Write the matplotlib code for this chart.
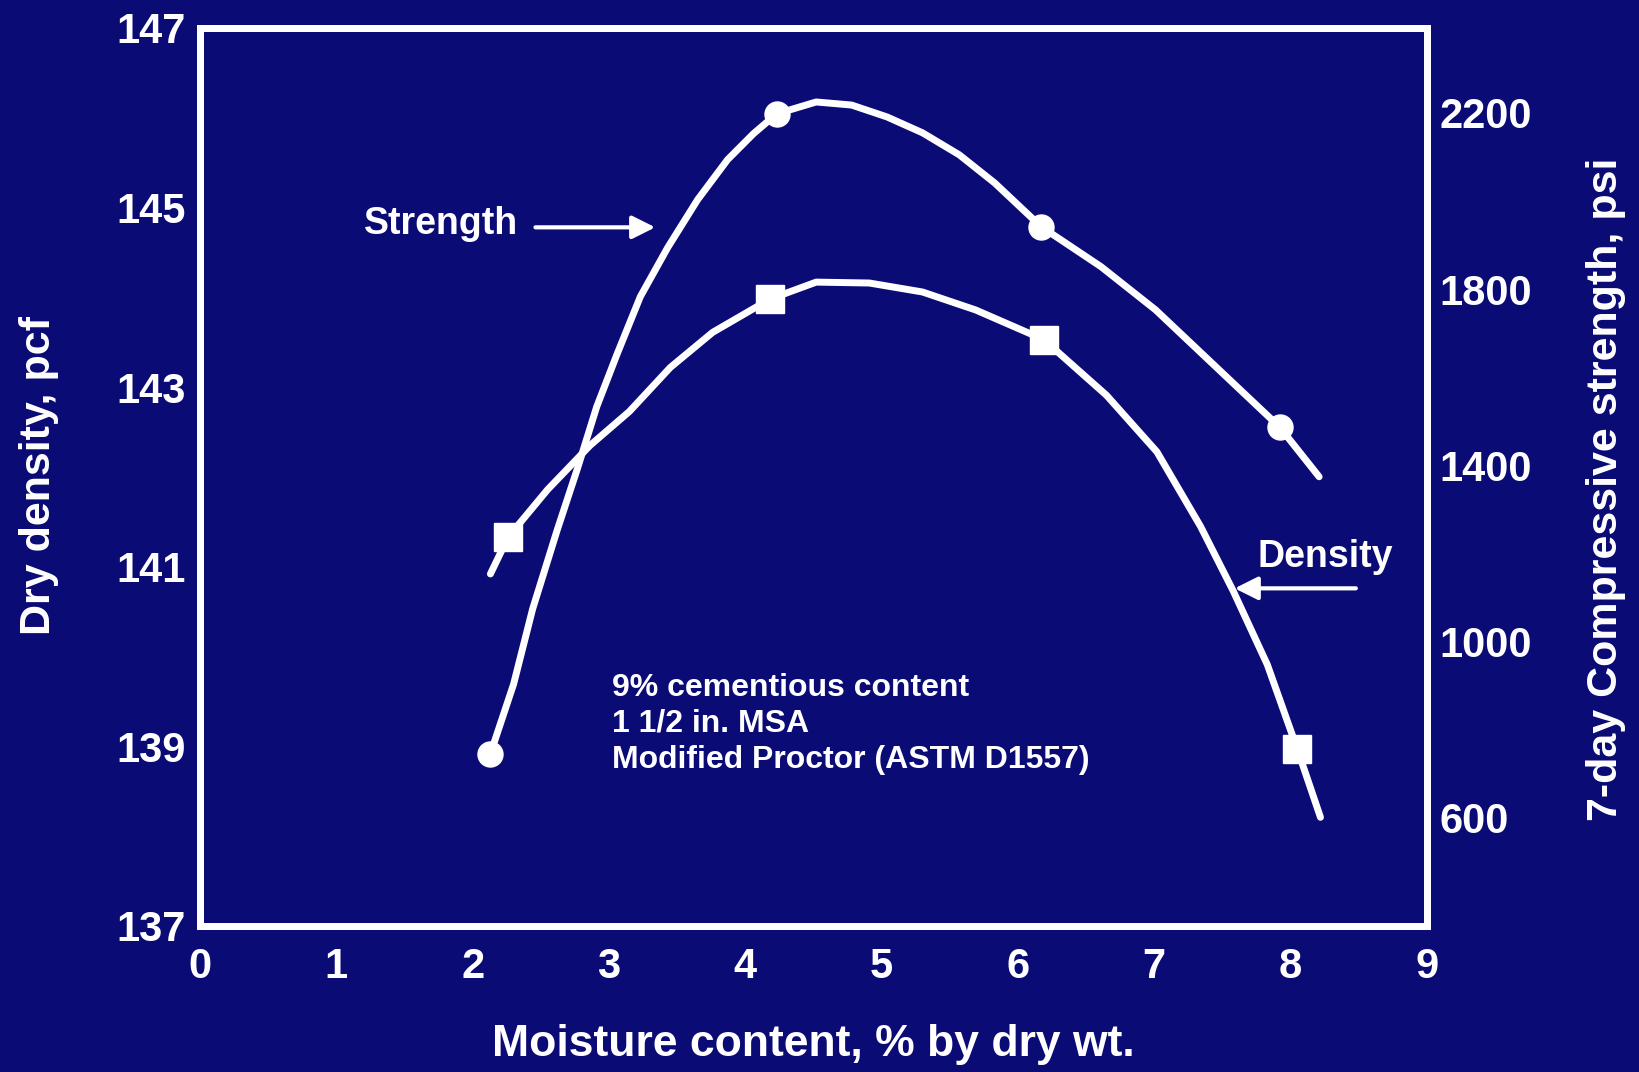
import numpy as np
import matplotlib
matplotlib.use('Agg')
import matplotlib.pyplot as plt

plt.rcParams['font.family'] = ['Liberation Sans', 'DejaVu Sans']
plt.rcParams['font.weight'] = 'bold'

BG = '#0b0b75'
FG = 'white'

# strength measurements (right axis, psi)
strength_x = [2.13, 4.23, 6.17, 7.92]
strength_psi = [745, 2198, 1942, 1487]
# strength fitted curve
strength_curve_x = [2.13, 2.30, 2.44, 2.62, 2.77, 2.91, 3.06, 3.23, 3.43, 3.65,
                    3.87, 4.06, 4.23, 4.52, 4.78, 5.04, 5.30, 5.57, 5.83, 6.17,
                    6.61, 7.01, 7.40, 7.92, 8.21]
strength_curve_psi = [745, 903, 1074, 1253, 1394, 1533, 1653, 1783, 1894, 2003,
                      2094, 2153, 2198, 2225, 2218, 2191, 2155, 2105, 2041, 1942,
                      1851, 1753, 1639, 1487, 1374]

# density measurements (left axis, pcf)
density_x = [2.26, 4.18, 6.19, 8.05]
density_pcf = [141.33, 143.98, 143.53, 138.97]
# density fitted curve
density_curve_x = [2.13, 2.26, 2.55, 2.86, 3.15, 3.45, 3.76, 4.18, 4.52, 4.91,
                   5.30, 5.69, 6.19, 6.65, 7.02, 7.34, 7.58, 7.83, 8.05, 8.22]
density_curve_pcf = [140.92, 141.33, 141.86, 142.35, 142.73, 143.22, 143.61, 143.98,
                     144.17, 144.16, 144.06, 143.86, 143.53, 142.91, 142.28, 141.45,
                     140.73, 139.91, 138.97, 138.21]

x_ticks = list(range(0, 10))
left_ticks = [137, 139, 141, 143, 145, 147]
right_ticks = [600, 1000, 1400, 1800, 2200]

notes = "9% cementious content\n1 1/2 in. MSA\nModified Proctor (ASTM D1557)"

fig = plt.figure(figsize=(16.4, 10.72), dpi=100, facecolor=BG)
ax = fig.add_axes([0.122, 0.1362, 0.748, 0.8377])
ax.set_facecolor(BG)
ax2 = ax.twinx()

ax.plot(density_curve_x, density_curve_pcf, color=FG, lw=5, solid_capstyle='round',
        solid_joinstyle='round')
ax.plot(density_x, density_pcf, 's', color=FG, ms=20)

ax2.plot(strength_curve_x, strength_curve_psi, color=FG, lw=5, solid_capstyle='round',
         solid_joinstyle='round')
ax2.plot(strength_x, strength_psi, 'o', color=FG, ms=18)

ax.set_xlim(0, 9)
ax.set_ylim(137, 147)
ax2.set_ylim(354, 2393)

ax.set_xticks(x_ticks)
ax.set_yticks(left_ticks)
ax2.set_yticks(right_ticks)

for a in (ax, ax2):
    for sp in a.spines.values():
        sp.set_color(FG)
        sp.set_linewidth(5)
    a.tick_params(colors=FG, length=0, labelsize=30)

ax.tick_params(axis='x', pad=15)
ax.tick_params(axis='y', pad=10)
ax2.tick_params(axis='y', pad=9)

# labels
fig.text(0.496, 0.026, "Moisture content, % by dry wt.", color=FG, fontsize=32,
         ha='center', va='center')
fig.text(0.024, 0.556, "Dry density, pcf", color=FG, fontsize=31,
         rotation=90, ha='center', va='center')
fig.text(0.979, 0.544, "7-day Compressive strength, psi", color=FG, fontsize=31,
         rotation=90, ha='center', va='center')

# annotations
ax.annotate("", xy=(3.36, 144.78), xytext=(2.44, 144.78),
            arrowprops=dict(arrowstyle='-|>', color=FG, lw=3, mutation_scale=35))
ax.text(1.20, 144.82, "Strength", color=FG, fontsize=27, ha='left', va='center')

ax.annotate("", xy=(7.57, 140.76), xytext=(8.50, 140.76),
            arrowprops=dict(arrowstyle='-|>', color=FG, lw=3, mutation_scale=35))
ax.text(7.76, 141.11, "Density", color=FG, fontsize=27, ha='left', va='center')

ax.text(3.02, 139.25, notes, color=FG, fontsize=23, ha='left', va='center',
        linespacing=1.25)

fig.savefig('out.png', dpi=100, facecolor=BG)
